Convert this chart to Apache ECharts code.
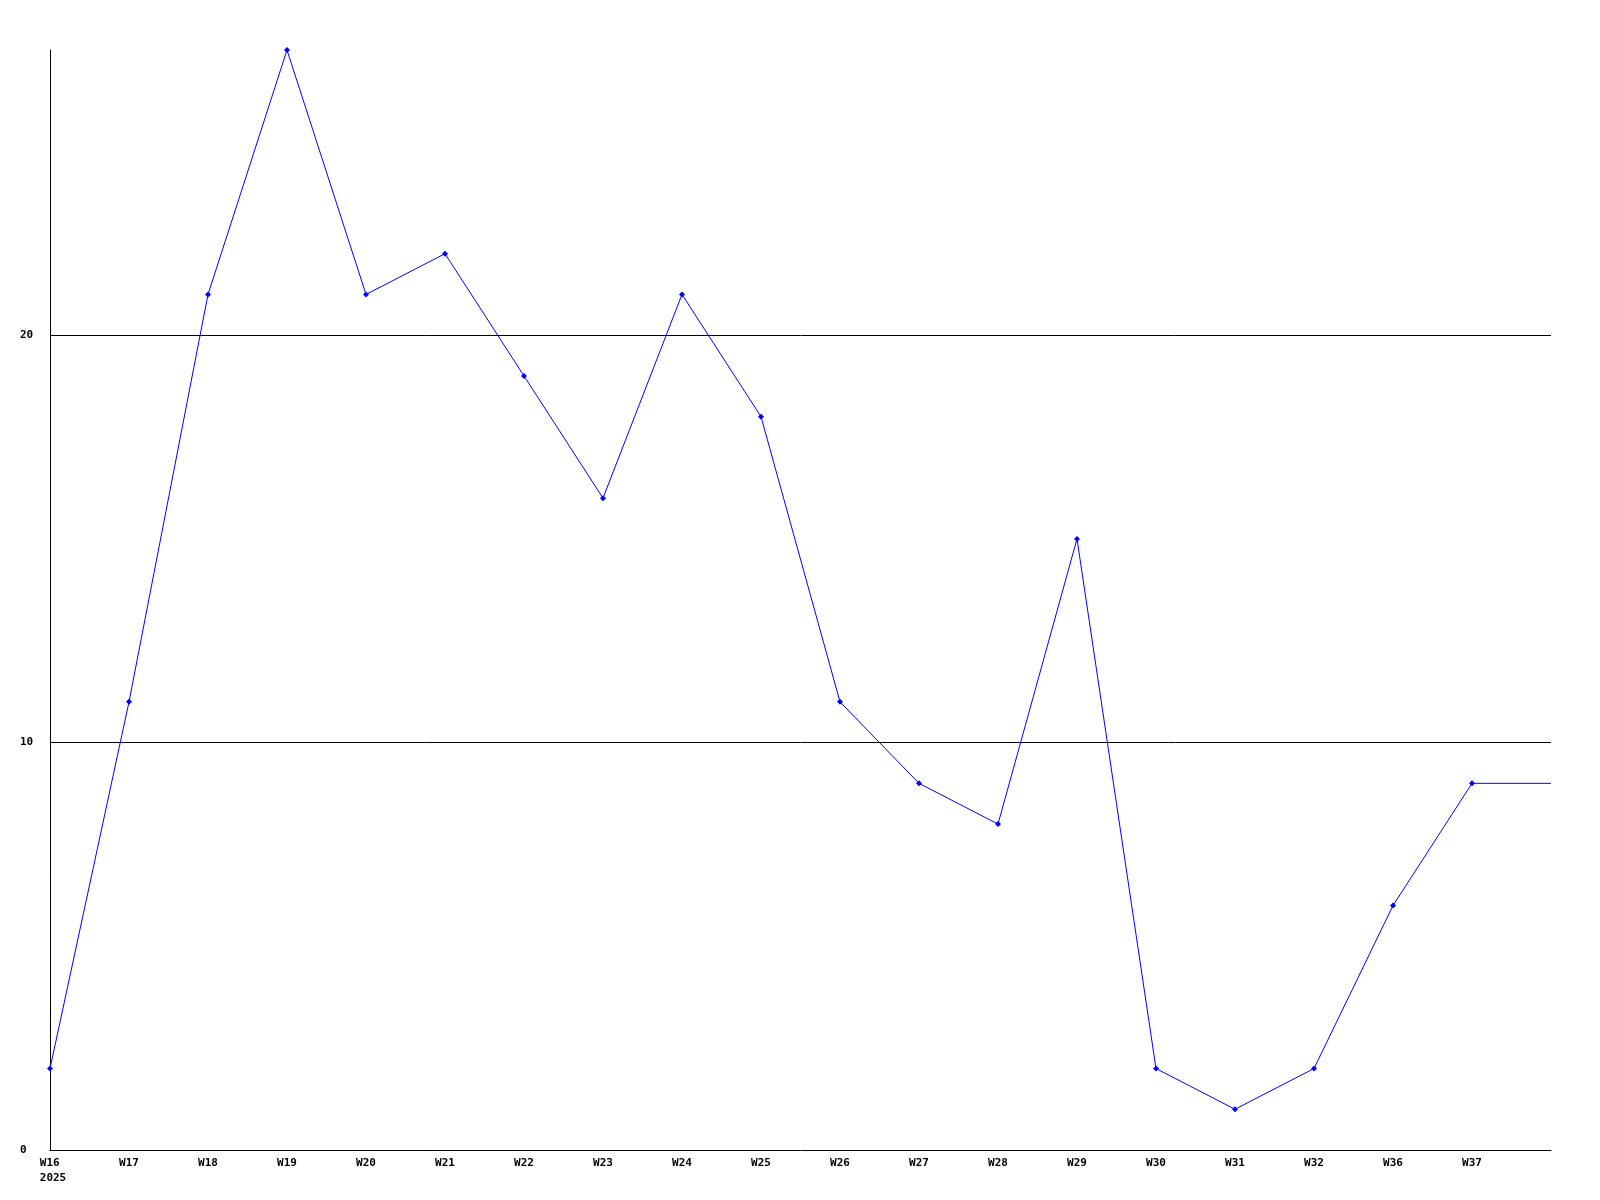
<!DOCTYPE html>
<html>
<head>
<meta charset="utf-8">
<script src="https://cdn.jsdelivr.net/npm/echarts@6/dist/echarts.min.js"></script>
<style>
  html, body { margin: 0; padding: 0; background: #fff; }
  #chart { width: 1600px; height: 1200px; }
</style>
</head>
<body>
<div id="chart"></div>
<script>
// weeks of 2025, last slot has no label (line just runs on to the edge)
const weeks = ['W16', 'W17', 'W18', 'W19', 'W20', 'W21', 'W22', 'W23', 'W24', 'W25',
  'W26', 'W27', 'W28', 'W29', 'W30', 'W31', 'W32', 'W36', 'W37', '']
const counts = [2, 11, 21, 27, 21, 22, 19, 16, 21, 18, 11, 9, 8, 15, 2, 1, 2, 6, 9, 9]
const yearLabel = '2025'

const font = '"DejaVu Sans Mono", monospace'

// no marker on the trailing edge point
const seriesData = counts.map((v, i) => i === counts.length - 1 ? { value: v, symbol: 'none' } : v)

const chart = echarts.init(document.getElementById('chart'))
chart.setOption({
  animation: false,
  grid: { left: 50, right: 49, top: 50, bottom: 50 },
  xAxis: {
    type: 'category',
    data: weeks,
    boundaryGap: false,
    axisLine: { lineStyle: { color: '#000', width: 1 } },
    axisTick: { show: false },
    axisLabel: {
      interval: 0,
      margin: 6,
      color: '#000',
      fontFamily: font,
      fontWeight: 'bold',
      fontSize: 11,
      lineHeight: 15,
      formatter(v, i) {
        if (i === 0) return '{f|' + v + ' }\n{f|' + yearLabel + '}'
        return v
      },
      rich: {
        f: { fontFamily: font, fontWeight: 'bold', fontSize: 11, lineHeight: 15, color: '#000', padding: [0, 0, 0, 6] }
      }
    },
    splitLine: { show: false }
  },
  yAxis: {
    type: 'value',
    min: 0,
    max: 27,
    interval: 10,
    axisLine: { show: true, lineStyle: { color: '#000', width: 1 } },
    axisTick: { show: false },
    axisLabel: {
      showMaxLabel: false,
      align: 'left',
      margin: 30,
      color: '#000',
      fontFamily: font,
      fontWeight: 'bold',
      fontSize: 11
    },
    splitLine: {
      show: true,
      showMinLine: false,
      showMaxLine: false,
      lineStyle: { color: '#000', width: 1 }
    }
  },
  series: [
    {
      type: 'line',
      data: seriesData,
      color: '#0000ff',
      lineStyle: { color: '#0000ff', width: 1 },
      symbol: 'diamond',
      symbolSize: 6,
      showAllSymbol: true,
      itemStyle: { color: '#0000ff' }
    }
  ]
})
</script>
</body>
</html>
